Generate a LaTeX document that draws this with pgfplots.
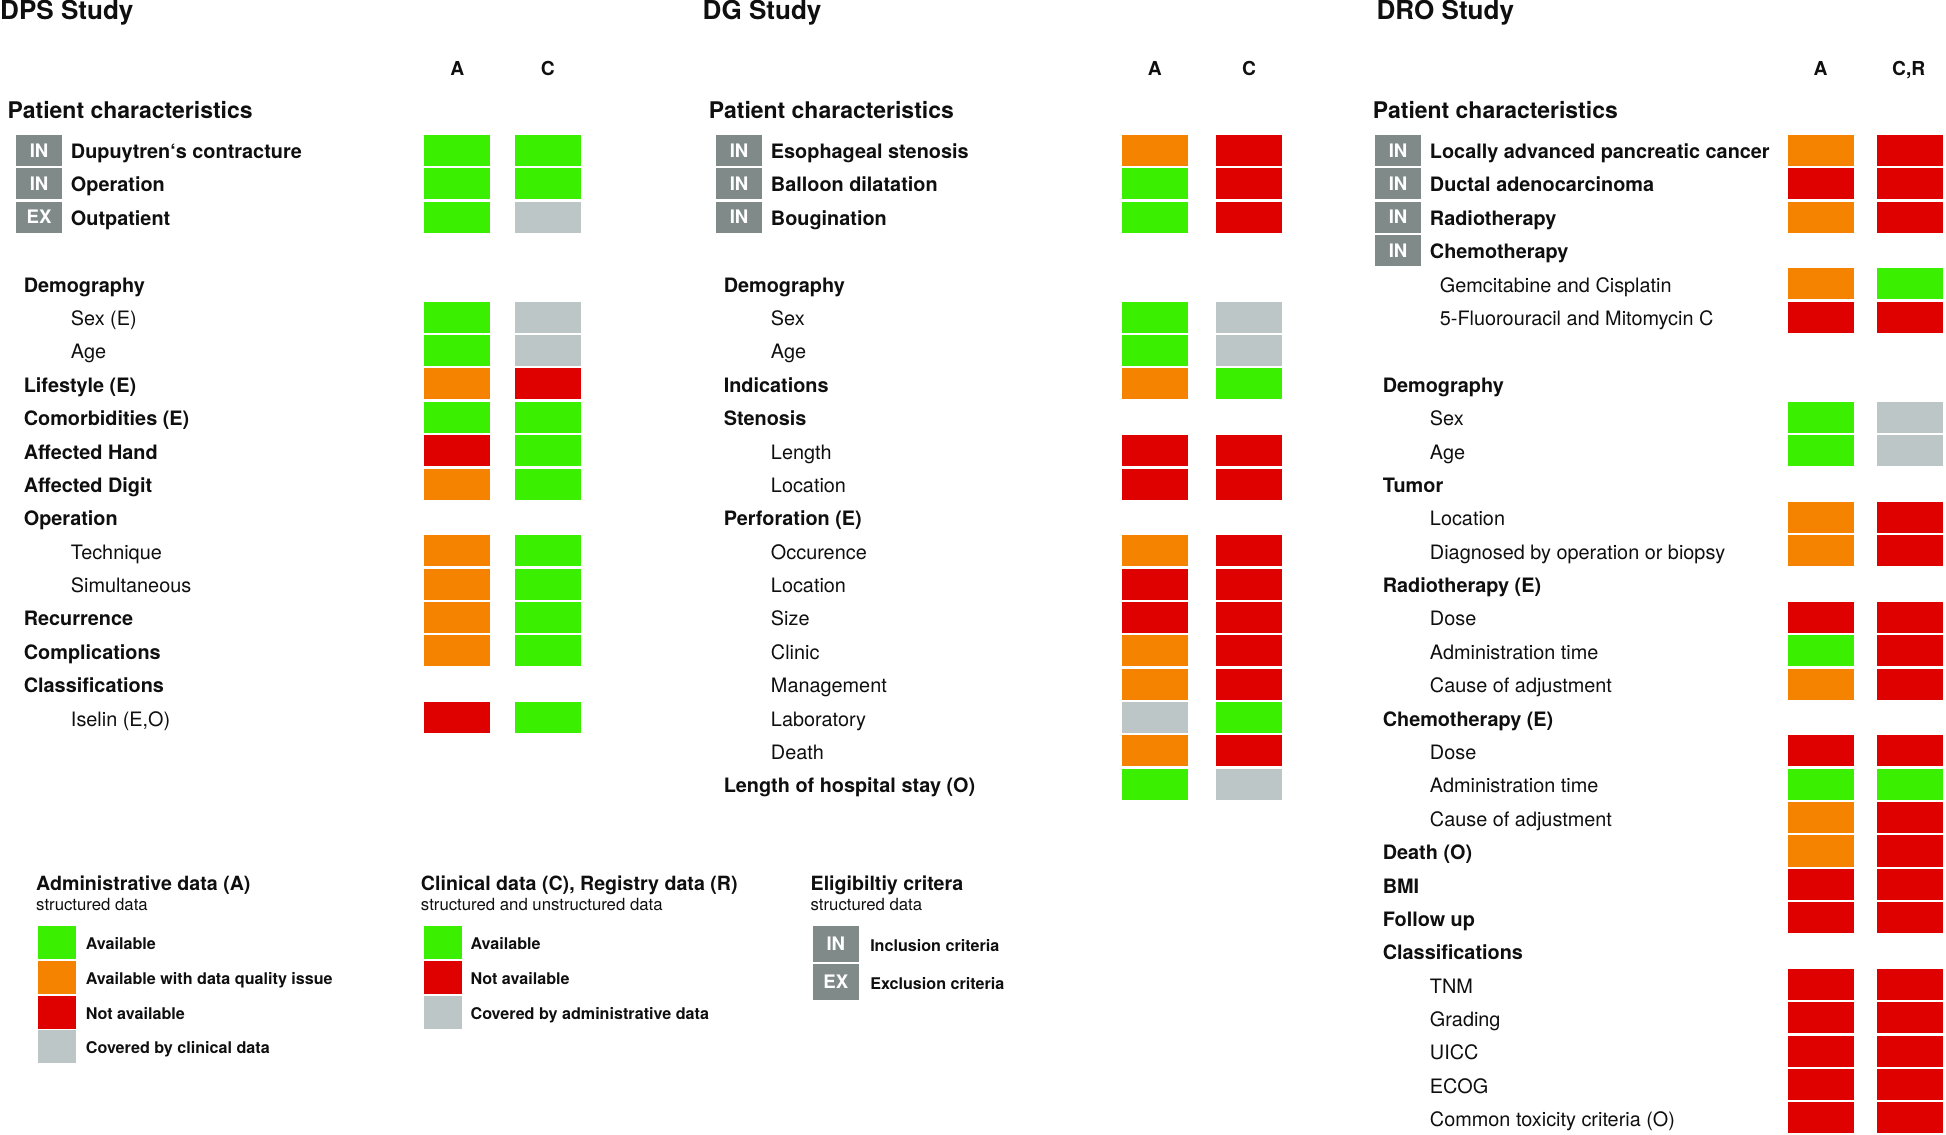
\documentclass[border=0pt]{standalone}
\usepackage{fontspec}
\setmainfont{TeX Gyre Heros}
\usepackage{pgfplots}
\pgfplotsset{compat=1.18}
\usepackage{pgfplotstable}

\definecolor{cG}{RGB}{58,240,0}
\definecolor{cO}{RGB}{245,131,0}
\definecolor{cR}{RGB}{223,0,0}
\definecolor{cX}{RGB}{188,198,198}
\definecolor{cIN}{RGB}{127,138,137}
\definecolor{txt}{RGB}{15,15,15}

\pgfdeclareplotmark{cell}{\pgfpathrectangle{\pgfpoint{-26.5pt}{-12.5pt}}{\pgfpoint{53pt}{25pt}}\pgfusepathqfill}
\pgfdeclareplotmark{legcell}{\pgfpathrectangle{\pgfpoint{-15pt}{-13.25pt}}{\pgfpoint{30pt}{26.5pt}}\pgfusepathqfill}
\pgfdeclareplotmark{inbox}{\pgfpathrectangle{\pgfpoint{-18.5pt}{-12.5pt}}{\pgfpoint{37pt}{25pt}}\pgfusepathqfill}
\pgfdeclareplotmark{leginbox}{\pgfpathrectangle{\pgfpoint{-18.5pt}{-14.5pt}}{\pgfpoint{37pt}{29pt}}\pgfusepathqfill}

% row index i -> y = 121.2 + 26.88 i ; status: G available, O quality issue, R not available, X covered
\pgfplotstableread{
i A C
0 G G
1 G G
2 G X
5 G X
6 G X
7 O R
8 G G
9 R G
10 O G
12 O G
13 O G
14 O G
15 O G
17 R G
}\dpsdata

\pgfplotstableread{
i A C
0 O R
1 G R
2 G R
5 G X
6 G X
7 O G
9 R R
10 R R
12 O R
13 R R
14 R R
15 O R
16 O R
17 X G
18 O R
19 G X
}\dgdata

\pgfplotstableread{
i A C
0 O R
1 R R
2 O R
4 O G
5 R R
8 G X
9 G X
11 O R
12 O R
14 R R
15 G R
16 O R
18 R R
19 G G
20 O R
21 O R
22 R R
23 R R
25 R R
26 R R
27 R R
28 R R
29 R R
}\drodata

\pgfplotsset{status/.style={scatter, only marks, scatter src=explicit symbolic, mark=cell,
  scatter/classes={G={fill=cG},O={fill=cO},R={fill=cR},X={fill=cX}}}}

\tikzset{
 L/.style={inner sep=0pt, anchor=west, text depth=0pt, text=txt},
 T/.style={L, font=\fontsize{21}{24}\selectfont\bfseries, text height=15.1pt},
 P/.style={L, font=\fontsize{18.5}{22}\selectfont\bfseries, text height=13.3pt},
 H/.style={L, anchor=center, font=\fontsize{15.5}{18}\selectfont\bfseries, text height=11.2pt},
 B/.style={L, font=\fontsize{16}{19}\selectfont\bfseries, text height=11.5pt},
 R/.style={L, font=\fontsize{16}{19}\selectfont, text height=11.5pt},
 LH/.style={L, font=\fontsize{15.8}{19}\selectfont\bfseries, text height=11.4pt},
 LS/.style={L, font=\fontsize{13.5}{16}\selectfont, text height=9.7pt},
 LB/.style={L, font=\fontsize{13}{16}\selectfont\bfseries, text height=9.4pt},
}

\begin{document}
\begin{tikzpicture}
\begin{axis}[x=1pt, y=1pt, y dir=reverse, xmin=0, xmax=1568, ymin=0, ymax=914,
  hide axis, clip=false]
\addplot[draw=none, forget plot] coordinates {(0,0) (1568,914)};

% ---- data cells
\addplot[status] table[x expr=368.5, y expr=121.2+26.88*\thisrow{i}, meta=A] {\dpsdata};
\addplot[status] table[x expr=441.5, y expr=121.2+26.88*\thisrow{i}, meta=C] {\dpsdata};
\addplot[status] table[x expr=930.5, y expr=121.2+26.88*\thisrow{i}, meta=A] {\dgdata};
\addplot[status] table[x expr=1006.5, y expr=121.2+26.88*\thisrow{i}, meta=C] {\dgdata};
\addplot[status] table[x expr=1467, y expr=121.2+26.88*\thisrow{i}, meta=A] {\drodata};
\addplot[status] table[x expr=1539, y expr=121.2+26.88*\thisrow{i}, meta=C] {\drodata};

% ---- IN / EX boxes
\addplot[only marks, mark=inbox, color=cIN, nodes near coords, point meta=explicit symbolic,
  every node near coord/.style={anchor=center, inner sep=0pt, text=white,
  font=\fontsize{15}{18}\selectfont\bfseries, text height=10.8pt, text depth=0pt}]
  coordinates {(31.5,121.2) [IN] (31.5,148.1) [IN] (31.5,175.0) [EX]
  (595.5,121.2) [IN] (595.5,148.1) [IN] (595.5,175.0) [IN]
  (1126.5,121.2) [IN] (1126.5,148.1) [IN] (1126.5,175.0) [IN] (1126.5,201.8) [IN]};

% ---- legend swatches
\addplot[status, mark=legcell] table[row sep=\\, x expr=46, y=y, meta=s]
  {y s\\ 759.5 G\\ 787.5 O\\ 815.5 R\\ 843.5 X\\};
\addplot[status, mark=legcell] table[row sep=\\, x expr=357, y=y, meta=s]
  {y s\\ 759.5 G\\ 787.5 R\\ 815.5 X\\};
\addplot[only marks, mark=leginbox, color=cIN, nodes near coords, point meta=explicit symbolic,
  every node near coord/.style={anchor=center, inner sep=0pt, text=white,
  font=\fontsize{15}{18}\selectfont\bfseries, text height=10.8pt, text depth=0pt}]
  coordinates {(673.5,760.5) [IN] (673.5,791) [EX]};

% ---- titles and headers
\node[T] at (0,8.5) {DPS Study};
\node[T] at (566,8.5) {DG Study};
\node[T] at (1109,8.5) {DRO Study};
\node[H] at (368.5,55) {A};
\node[H] at (441.5,55) {C};
\node[H] at (930.5,55) {A};
\node[H] at (1006.5,55) {C};
\node[H] at (1467,55) {A};
\node[H] at (1538,55) {C,R};
\node[P] at (6,89) {Patient characteristics};
\node[P] at (571,89) {Patient characteristics};
\node[P] at (1106,89) {Patient characteristics};

% ---- DPS labels
\node[B] at (57,122) {Dupuytren‘s contracture};
\node[B] at (57,148.9) {Operation};
\node[B] at (57,175.8) {Outpatient};
\node[B] at (19,229.6) {Demography};
\node[R] at (57,256.5) {Sex (E)};
\node[R] at (57,283.4) {Age};
\node[B] at (19,310.3) {Lifestyle (E)};
\node[B] at (19,337.2) {Comorbidities (E)};
\node[B] at (19,364.1) {Affected Hand};
\node[B] at (19,391.0) {Affected Digit};
\node[B] at (19,417.9) {Operation};
\node[R] at (57,444.8) {Technique};
\node[R] at (57,471.7) {Simultaneous};
\node[B] at (19,498.6) {Recurrence};
\node[B] at (19,525.5) {Complications};
\node[B] at (19,552.4) {Classifications};
\node[R] at (57,579.3) {Iselin (E,O)};

% ---- DG labels
\node[B] at (621,122) {Esophageal stenosis};
\node[B] at (621,148.9) {Balloon dilatation};
\node[B] at (621,175.8) {Bougination};
\node[B] at (583,229.6) {Demography};
\node[R] at (621,256.5) {Sex};
\node[R] at (621,283.4) {Age};
\node[B] at (583,310.3) {Indications};
\node[B] at (583,337.2) {Stenosis};
\node[R] at (621,364.1) {Length};
\node[R] at (621,391.0) {Location};
\node[B] at (583,417.9) {Perforation (E)};
\node[R] at (621,444.8) {Occurence};
\node[R] at (621,471.7) {Location};
\node[R] at (621,498.6) {Size};
\node[R] at (621,525.5) {Clinic};
\node[R] at (621,552.4) {Management};
\node[R] at (621,579.3) {Laboratory};
\node[R] at (621,606.2) {Death};
\node[B] at (583,633.1) {Length of hospital stay (O)};

% ---- DRO labels
\node[B] at (1152,122) {Locally advanced pancreatic cancer};
\node[B] at (1152,148.9) {Ductal adenocarcinoma};
\node[B] at (1152,175.8) {Radiotherapy};
\node[B] at (1152,202.7) {Chemotherapy};
\node[R] at (1160,229.6) {Gemcitabine and Cisplatin};
\node[R] at (1160,256.5) {5-Fluorouracil and Mitomycin C};
\node[B] at (1114,310.3) {Demography};
\node[R] at (1152,337.2) {Sex};
\node[R] at (1152,364.1) {Age};
\node[B] at (1114,391.0) {Tumor};
\node[R] at (1152,417.9) {Location};
\node[R] at (1152,444.8) {Diagnosed by operation or biopsy};
\node[B] at (1114,471.7) {Radiotherapy (E)};
\node[R] at (1152,498.6) {Dose};
\node[R] at (1152,525.5) {Administration time};
\node[R] at (1152,552.4) {Cause of adjustment};
\node[B] at (1114,579.3) {Chemotherapy (E)};
\node[R] at (1152,606.2) {Dose};
\node[R] at (1152,633.1) {Administration time};
\node[R] at (1152,660.0) {Cause of adjustment};
\node[B] at (1114,686.9) {Death (O)};
\node[B] at (1114,713.8) {BMI};
\node[B] at (1114,740.7) {Follow up};
\node[B] at (1114,767.6) {Classifications};
\node[R] at (1152,794.5) {TNM};
\node[R] at (1152,821.4) {Grading};
\node[R] at (1152,848.3) {UICC};
\node[R] at (1152,875.2) {ECOG};
\node[R] at (1152,902.1) {Common toxicity criteria (O)};

% ---- legends
\node[LH] at (29,712) {Administrative data (A)};
\node[LS] at (29,729) {structured data};
\node[LB] at (69,760.5) {Available};
\node[LB] at (69,788.5) {Available with data quality issue};
\node[LB] at (69,816.5) {Not available};
\node[LB] at (69,844.5) {Covered by clinical data};

\node[LH] at (339,712) {Clinical data (C), Registry data (R)};
\node[LS] at (339,729) {structured and unstructured data};
\node[LB] at (379,760.5) {Available};
\node[LB] at (379,788.5) {Not available};
\node[LB] at (379,816.5) {Covered by administrative data};

\node[LH] at (653,712) {Eligibiltiy critera};
\node[LS] at (653,729) {structured data};
\node[LB] at (701,762) {Inclusion criteria};
\node[LB] at (701,792.5) {Exclusion criteria};
\end{axis}
\end{tikzpicture}
\end{document}
